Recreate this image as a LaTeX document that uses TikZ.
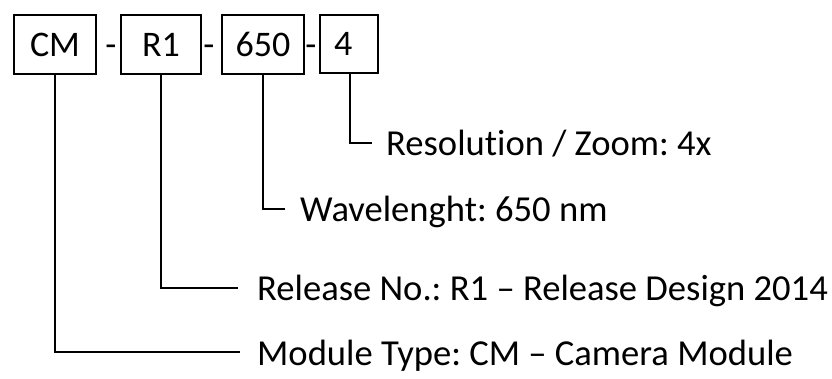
\documentclass[tikz,border=0pt]{standalone}
\usepackage{fontspec}
\setmainfont[Ligatures=NoCommon]{Carlito}
\frenchspacing
\begin{document}
\begin{tikzpicture}[x=1pt,y=-1pt,
  codebox/.style={draw,line width=2.6pt,inner sep=0pt,font=\fontsize{36}{40}\selectfont},
  lbl/.style={anchor=base west,inner sep=0pt,font=\fontsize{36.6}{40}\selectfont},
  sep/.style={anchor=base,inner sep=0pt,font=\fontsize{36}{40}\selectfont},
  conn/.style={line width=2.6pt}]
\useasboundingbox (0,0) rectangle (832,378);
% boxes
\node[codebox,minimum width=82pt,minimum height=59pt] (cm) at (55,44.5) {CM};
\node[codebox,minimum width=80pt,minimum height=59pt] (r1) at (161,44.5) {R1};
\node[codebox,minimum width=82pt,minimum height=59pt] (wl) at (263,44.5) {650};
\node[codebox,minimum width=58pt,minimum height=58pt,text width=58pt,align=left] (zm) at (349,44) {\hspace{14pt}4};
% separators
\node[sep] (d1) at (111,56) {-};
\node[sep] (d2) at (209,56) {-};
\node[sep] (d3) at (311,56) {-};
% labels
\node[lbl] (lzm) at (386,155) {Resolution / Zoom: 4x};
\node[lbl] (lwl) at (300,221) {Wavelenght: 650 nm};
\node[lbl] (lr1) at (257,300) {Release No.: R1 – Release Design 2014};
\node[lbl] (lcm) at (257,365) {Module Type: CM – Camera Module};
% connectors
\coordinate (czm) at (350,143);
\coordinate (cwl) at (263,209);
\coordinate (cr1) at (161,288);
\coordinate (ccm) at (55,352);
\draw[conn] (zm.south -| czm) -- (czm) -- (372,143);
\draw[conn] (wl.south) -- (cwl) -- (285,209);
\draw[conn] (r1.south) -- (cr1) -- (238,288);
\draw[conn] (cm.south) -- (ccm) -- (240,352);
\end{tikzpicture}
\end{document}
